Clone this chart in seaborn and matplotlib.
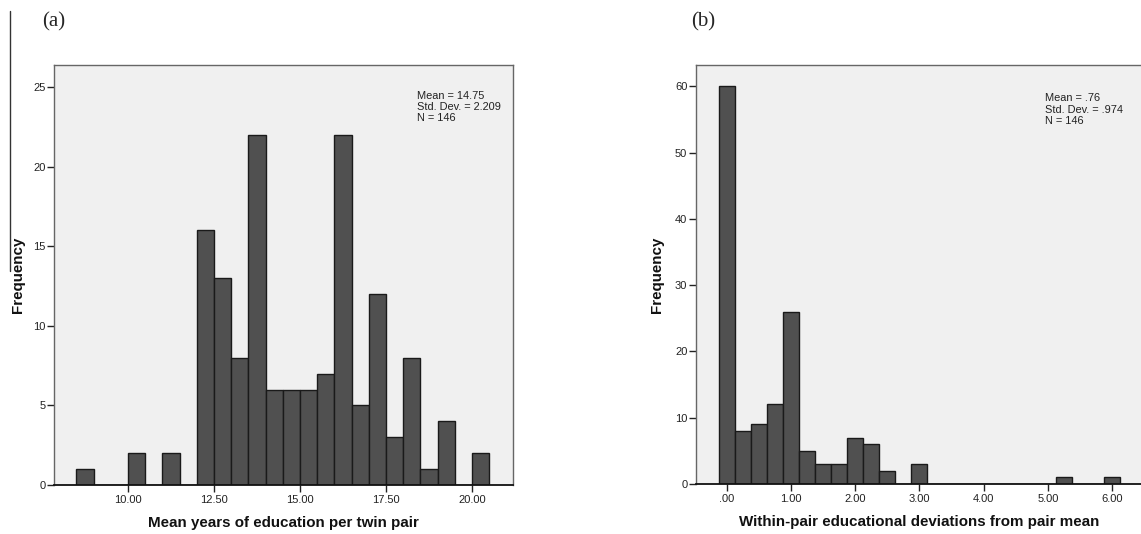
import numpy as np
import pandas as pd
import seaborn as sns
import matplotlib.pyplot as plt
from matplotlib.lines import Line2D

# (a) mean years of education per twin pair, bins of 0.5 (left edges)
edu_bin_left = [8.5, 10.0, 11.0, 12.0, 12.5, 13.0, 13.5, 14.0, 14.5, 15.0,
                15.5, 16.0, 16.5, 17.0, 17.5, 18.0, 18.5, 19.0, 20.0]
edu_counts = [1, 2, 2, 16, 13, 8, 22, 6, 6, 6, 7, 22, 5, 12, 3, 8, 1, 4, 2]
edu_ticks = [10.0, 12.5, 15.0, 17.5, 20.0]
edu_tick_labels = ["10.00", "12.50", "15.00", "17.50", "20.00"]
edu_stats = "Mean = 14.75\nStd. Dev. = 2.209\nN = 146"

# (b) within-pair deviations, bins of 0.25 (bin centres)
dev_bin_mid = [0.0, 0.25, 0.5, 0.75, 1.0, 1.25, 1.5, 1.75, 2.0, 2.25, 2.5,
               3.0, 5.25, 6.0]
dev_counts = [60, 8, 9, 12, 26, 5, 3, 3, 7, 6, 2, 3, 1, 1]
dev_ticks = [0, 1, 2, 3, 4, 5, 6]
dev_tick_labels = [".00", "1.00", "2.00", "3.00", "4.00", "5.00", "6.00"]
dev_stats = "Mean = .76\nStd. Dev. = .974\nN = 146"

df_a = pd.DataFrame({"x": np.array(edu_bin_left) + 0.25, "n": edu_counts})
df_b = pd.DataFrame({"x": dev_bin_mid, "n": dev_counts})

sns.set_style("ticks", {"axes.facecolor": "#f0f0f0"})
plt.rcParams["font.family"] = ["Liberation Sans", "DejaVu Sans"]

fig = plt.figure(figsize=(11.41, 5.34), dpi=100, facecolor="w")
ax1 = fig.add_axes([0.0473, 0.0918, 0.4023, 0.7865])
ax2 = fig.add_axes([0.6097, 0.0936, 0.3920, 0.7847])

bar_kw = dict(color="#505050", edgecolor="#1a1a1a", linewidth=1, alpha=1)
sns.histplot(data=df_a, x="x", weights="n", binwidth=0.5, binrange=(8.5, 20.5),
             ax=ax1, **bar_kw)
sns.histplot(data=df_b, x="x", weights="n", binwidth=0.25, binrange=(-0.125, 6.125),
             ax=ax2, **bar_kw)

ax1.set_xlim(7.85, 21.19)
ax1.set_ylim(0, 26.4)
ax1.set_xticks(edu_ticks, edu_tick_labels)
ax1.set_yticks([0, 5, 10, 15, 20, 25])

ax2.set_xlim(-0.483, 6.48)
ax2.set_ylim(0, 63.2)
ax2.set_xticks(dev_ticks, dev_tick_labels)
ax2.set_yticks([0, 10, 20, 30, 40, 50, 60])

for ax, xlab, stats, ylx, sx, sy in [
        (ax1, "Mean years of education per twin pair", edu_stats, -0.0635, 0.790, 0.939),
        (ax2, "Within-pair educational deviations from pair mean", dev_stats, -0.071, 0.782, 0.932)]:
    for s in ["top", "right", "left"]:
        ax.spines[s].set_color("#666666")
        ax.spines[s].set_linewidth(1)
    ax.spines["bottom"].set_color("#111111")
    ax.spines["bottom"].set_linewidth(1.3)
    ax.tick_params(axis="both", direction="out", length=5, width=1,
                   color="#222222", labelsize=8, labelcolor="#222222")
    ax.tick_params(axis="y", pad=1)
    ax.tick_params(axis="x", pad=2)
    ax.set_xlabel(xlab, fontsize=10.9, fontweight="bold", color="#111111")
    ax.set_ylabel("Frequency", fontsize=10.9, fontweight="bold", color="#111111")
    ax.yaxis.set_label_coords(ylx, 0.5)
    ax.xaxis.set_label_coords(0.5, -0.073)
    ax.text(sx, sy, stats, transform=ax.transAxes, ha="left", va="top",
            fontsize=7.9, color="#222222", linespacing=1.15)

fig.text(0.0368, 0.959, "(a)", family="Liberation Serif", fontsize=15,
         ha="left", va="center")
fig.text(0.606, 0.959, "(b)", family="Liberation Serif", fontsize=15,
         ha="left", va="center")
# thin rule left over at the left edge of the original figure
fig.add_artist(Line2D([10 / 1141, 10 / 1141], [1 - 11 / 534, 1 - 271 / 534],
                      color="#333333", linewidth=1))

fig.savefig("out.png", dpi=100)
